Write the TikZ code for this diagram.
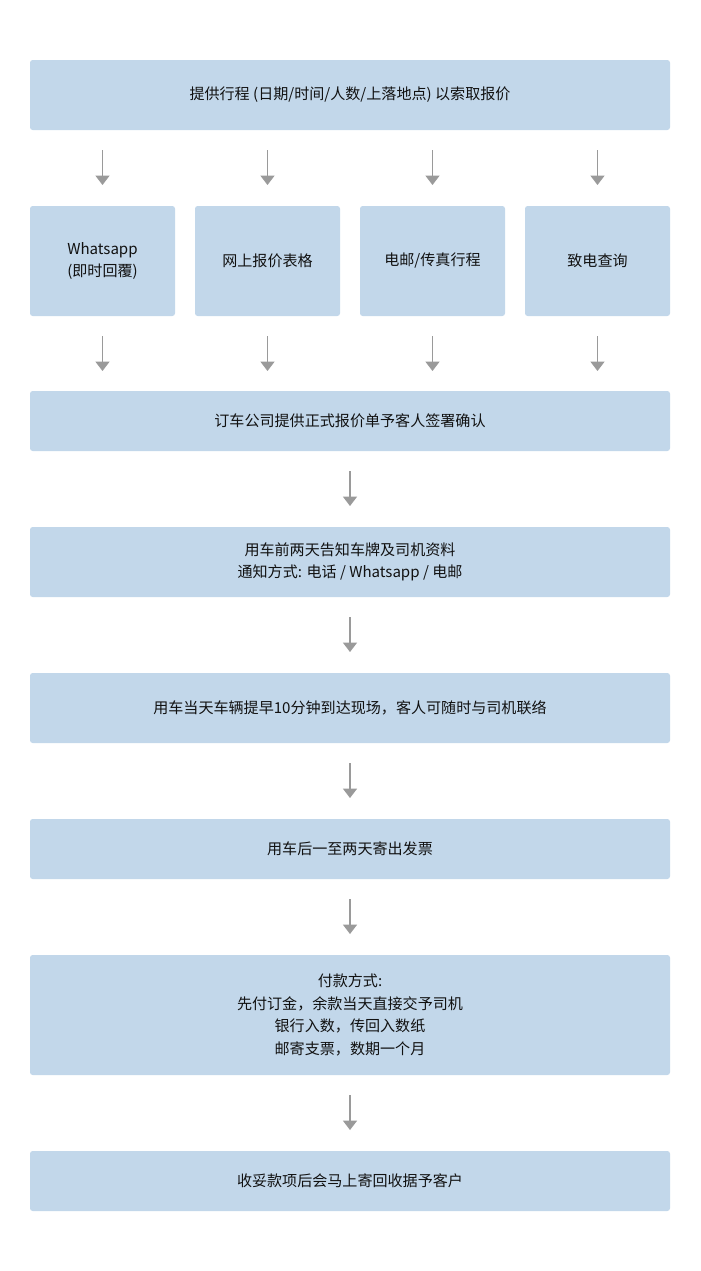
\documentclass[tikz,border=0pt]{standalone}
\usepackage{fontspec}
\setmainfont{Noto Sans CJK SC}
\usetikzlibrary{arrows.meta}
\definecolor{boxc}{HTML}{C2D7EA}
\definecolor{arrc}{HTML}{9A9A9A}
\definecolor{txt}{HTML}{111111}
\begin{document}
\begin{tikzpicture}[x=0.75pt,y=-0.75pt,
  bx/.style={fill=boxc,rounded corners=2pt,text=txt,font=\fontsize{11.3}{16.8}\selectfont,align=center},
  arr/.style={draw=arrc,line width=0.8pt,-{Triangle[width=10.5pt,length=7pt]}}]
\useasboundingbox (0,0) rectangle (700,1271);
\newcommand{\bxx}[6]{\path[bx] (#2,#3) rectangle (#4,#5) node[midway] (#1) {#6};}
\bxx{b1}{30}{60}{670}{130}{提供行程 (日期/时间/人数/上落地点) 以索取报价}
\bxx{r1}{30}{206}{175}{316}{Whatsapp\\(即时回覆)}
\bxx{r2}{195}{206}{340}{316}{网上报价表格}
\bxx{r3}{360}{206}{505}{316}{电邮/传真行程}
\bxx{r4}{525}{206}{670}{316}{致电查询}
\bxx{b3}{30}{391}{670}{451}{订车公司提供正式报价单予客人签署确认}
\bxx{b4}{30}{527}{670}{597}{用车前两天告知车牌及司机资料\\通知方式: 电话 / Whatsapp / 电邮}
\bxx{b5}{30}{673}{670}{743}{用车当天车辆提早10分钟到达现场，客人可随时与司机联络}
\bxx{b6}{30}{819}{670}{879}{用车后一至两天寄出发票}
\bxx{b7}{30}{955}{670}{1075}{付款方式:\\先付订金，余款当天直接交予司机\\银行入数，传回入数纸\\邮寄支票，数期一个月}
\bxx{b8}{30}{1151}{670}{1211}{收妥款项后会马上寄回收据予客户}
\foreach \x [count=\i] in {102.5,267.5,432.5,597.5}{
  \coordinate (ta\i) at (\x,150); \coordinate (ha\i) at (\x,185);
  \draw[arr] (ta\i) -- (ha\i);
  \coordinate (tb\i) at (\x,336); \coordinate (hb\i) at (\x,371);
  \draw[arr] (tb\i) -- (hb\i);}
\foreach \y [count=\i] in {471,617,763,899,1095}{
  \coordinate (tc\i) at (350,\y); \coordinate (hc\i) at (350,\y+35);
  \draw[arr] (tc\i) -- (hc\i);}
\end{tikzpicture}
\end{document}
